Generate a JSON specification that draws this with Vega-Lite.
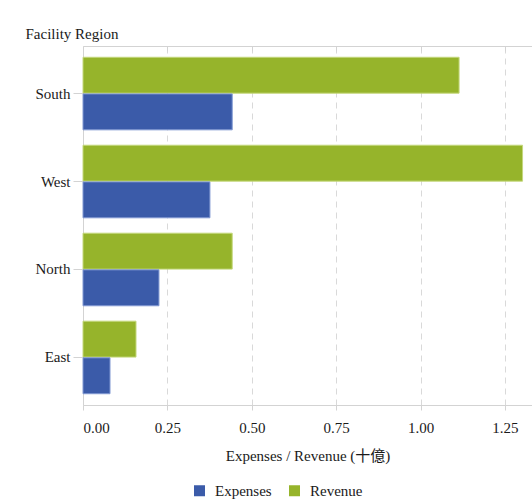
{
  "$schema": "https://vega.github.io/schema/vega-lite/v6.json",
  "width": 449,
  "height": 359,
  "autosize": {"type": "none"},
  "padding": {"left": 83, "top": 46, "right": 0, "bottom": 97},
  "background": "white",
  "data": {
    "values": [
      {"Region": "South", "Series": "Revenue", "Value": 1.114},
      {"Region": "South", "Series": "Expenses", "Value": 0.442},
      {"Region": "West", "Series": "Revenue", "Value": 1.302},
      {"Region": "West", "Series": "Expenses", "Value": 0.376},
      {"Region": "North", "Series": "Revenue", "Value": 0.442},
      {"Region": "North", "Series": "Expenses", "Value": 0.225},
      {"Region": "East", "Series": "Revenue", "Value": 0.157},
      {"Region": "East", "Series": "Expenses", "Value": 0.08}
    ]
  },
  "config": {
    "view": {"stroke": null},
    "font": "Liberation Serif",
    "axis": {
      "labelFont": "Liberation Serif",
      "titleFont": "Liberation Serif, Noto Sans CJK TC",
      "labelColor": "#1a1a1a",
      "titleColor": "#1a1a1a",
      "labelFontSize": 15,
      "titleFontSize": 15,
      "titleFontWeight": "normal",
      "domainColor": "#d3d3d3",
      "tickColor": "#d3d3d3"
    },
    "legend": {
      "labelFont": "Liberation Serif",
      "labelFontSize": 15,
      "labelColor": "#1a1a1a"
    }
  },
  "layer": [
    {
      "mark": {"type": "bar", "strokeWidth": 1},
      "encoding": {
        "y": {
          "field": "Region",
          "type": "nominal",
          "sort": ["South", "West", "North", "East"],
          "scale": {"paddingInner": 0.175, "paddingOuter": 0.128},
          "axis": {
            "title": "Facility Region",
            "titleAngle": 0,
            "titleAlign": "left",
            "titleBaseline": "alphabetic",
            "titleX": -58,
            "titleY": -8,
            "tickSize": 10,
            "labelPadding": 3,
            "grid": false
          }
        },
        "yOffset": {
          "field": "Series",
          "type": "nominal",
          "sort": ["Revenue", "Expenses"],
          "scale": {"paddingInner": 0.02}
        },
        "x": {
          "field": "Value",
          "type": "quantitative",
          "scale": {"domain": [0, 1.33], "nice": false, "zero": true},
          "axis": {
            "orient": "bottom",
            "values": [0, 0.25, 0.5, 0.75, 1, 1.25],
            "format": ".2f",
            "grid": true,
            "gridDash": [6, 5],
            "gridColor": "#d9d9d9",
            "tickSize": 5,
            "labelFlush": true,
            "labelFlushOffset": 0,
            "labelPadding": 10,
            "title": "Expenses / Revenue (十億)",
            "titlePadding": 13
          }
        },
        "color": {
          "field": "Series",
          "type": "nominal",
          "scale": {"domain": ["Expenses", "Revenue"], "range": ["#3b5ba9", "#96b42b"]},
          "legend": {
            "title": null,
            "orient": "none",
            "legendX": 109,
            "legendY": 437,
            "direction": "horizontal",
            "symbolType": "square",
            "symbolSize": 121,
            "symbolStrokeWidth": 0,
            "columnPadding": 15,
            "labelOffset": 8
          }
        },
        "stroke": {
          "field": "Series",
          "type": "nominal",
          "scale": {"domain": ["Expenses", "Revenue"], "range": ["#8098d2", "#c4d87c"]},
          "legend": null
        }
      }
    },
    {
      "mark": {"type": "bar", "opacity": 0},
      "encoding": {
        "x": {
          "field": "Value",
          "type": "quantitative",
          "axis": {
            "orient": "top",
            "values": [0, 0.25, 0.5, 0.75, 1, 1.25],
            "labels": false,
            "title": null,
            "grid": false,
            "tickSize": -5
          }
        }
      }
    }
  ],
  "resolve": {"axis": {"x": "independent"}}
}
